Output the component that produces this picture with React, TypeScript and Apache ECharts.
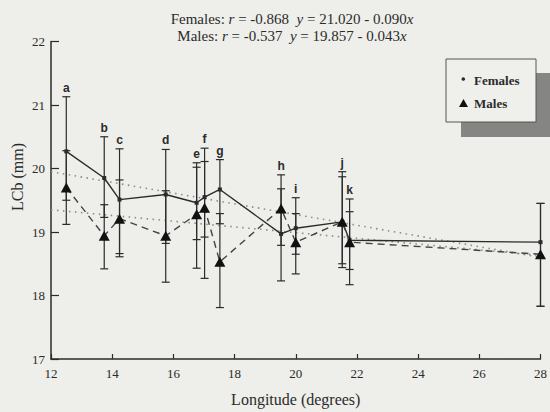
import React, { useEffect, useRef } from "react";
import * as echarts from "echarts";

const longitudes = [12.5, 13.74, 14.24, 15.75, 16.76, 17.02, 17.52, 19.52, 20.0, 21.52, 21.76, 28];
const siteLetters = ["a", "b", "c", "d", "e", "f", "g", "h", "i", "j", "k", ""];
const femaleMean = [20.27, 19.85, 19.51, 19.59, 19.46, 19.55, 19.67, 18.97, 19.06, 19.16, 18.87, 18.84];
const femaleLow = [19.5, 19.23, 18.66, 18.82, 18.88, 18.92, 19.13, 18.23, 18.65, 18.44, 18.17, 17.83];
const femaleHigh = [21.13, 20.5, 20.31, 20.3, 20.02, 20.11, 20.14, 19.68, 19.54, 19.87, 19.52, 19.45];
const maleMean = [19.7, 18.94, 19.21, 18.94, 19.28, 19.38, 18.53, 19.37, 18.84, 19.16, 18.84, 18.65];
const maleLow = [19.12, 18.42, 18.61, 18.21, 18.43, 18.27, 17.81, 18.79, 18.34, 18.5, 18.41, 17.83];
const maleHigh = [20.28, 19.43, 19.82, 19.65, 20.09, 20.32, 19.29, 19.9, 19.29, 19.95, 19.32, 19.45];
const femaleFit = [[12, 19.95], [28, 18.6]];
const maleFit = [[12, 19.35], [28, 18.63]];
const xTicks = { min: 12, max: 28, interval: 2 };
const yTicks = { min: 17, max: 22, interval: 1 };

const INK = "#2b2b2b";
const SERIF = '"Liberation Serif", "DejaVu Serif", serif';

function errorBarSeries(name: string, low: number[], high: number[]) {
  return {
    type: "custom",
    name,
    z: 2,
    data: longitudes.map((x, i) => [x, low[i], high[i]]),
    renderItem: (params: any, api: any) => {
      const x = api.value(0);
      const pLo = api.coord([x, api.value(1)]);
      const pHi = api.coord([x, api.value(2)]);
      const w = 4;
      const style = { stroke: INK, lineWidth: 1.2, fill: "none" };
      return {
        type: "group",
        children: [
          { type: "line", shape: { x1: pLo[0], y1: pLo[1], x2: pHi[0], y2: pHi[1] }, style },
          { type: "line", shape: { x1: pHi[0] - w, y1: pHi[1], x2: pHi[0] + w, y2: pHi[1] }, style },
          { type: "line", shape: { x1: pLo[0] - w, y1: pLo[1], x2: pLo[0] + w, y2: pLo[1] }, style },
        ],
      };
    },
  };
}

const titleRich = {
  n: { fontFamily: SERIF, fontSize: 15, fontWeight: "normal", color: INK },
  i: { fontFamily: SERIF, fontSize: 15, fontWeight: "normal", fontStyle: "italic", color: INK },
};

export default function App() {
  const ref = useRef<HTMLDivElement>(null);
  useEffect(() => {
    const chart = echarts.init(ref.current!, null, { renderer: "svg" });
    const labelTops = longitudes.map((x, i) => [x, Math.max(femaleHigh[i], maleHigh[i])]);
    chart.setOption({
      animation: false,
      backgroundColor: "#eeeeea",
      grid: { left: 51, right: 2, top: 41.5, bottom: 47, containLabel: false },
      xAxis: {
        type: "value",
        min: xTicks.min,
        max: xTicks.max,
        interval: xTicks.interval,
        name: "Longitude (degrees)",
        nameLocation: "middle",
        nameGap: 32,
        nameTextStyle: { fontFamily: SERIF, fontSize: 16, color: INK },
        axisLine: { lineStyle: { color: INK, width: 1.5 } },
        axisTick: { inside: true, length: 5, lineStyle: { color: INK, width: 1.2 } },
        axisLabel: { fontFamily: SERIF, fontSize: 13, color: INK, margin: 8 },
        splitLine: { show: false },
      },
      yAxis: {
        type: "value",
        min: yTicks.min,
        max: yTicks.max,
        interval: yTicks.interval,
        axisLine: { show: true, lineStyle: { color: INK, width: 1.5 } },
        axisTick: { show: true, inside: true, length: 8, lineStyle: { color: INK, width: 1.2 } },
        axisLabel: { fontFamily: SERIF, fontSize: 13, color: INK, margin: 6 },
        splitLine: { show: false },
      },
      graphic: [
        {
          type: "text",
          x: 17.5,
          y: 177,
          rotation: Math.PI / 2,
          style: {
            text: "LCb (mm)",
            font: `16px ${SERIF}`,
            fill: INK,
            align: "center",
            verticalAlign: "middle",
          },
        },
        { type: "rect", shape: { x: 461, y: 73, width: 95, height: 64 }, style: { fill: "#858583" } },
        { type: "rect", shape: { x: 446, y: 59, width: 90, height: 63 }, style: { fill: "#efefec", stroke: "#555", lineWidth: 1 } },
        { type: "circle", shape: { cx: 463.3, cy: 79, r: 1.8 }, style: { fill: INK } },
        { type: "text", x: 474, y: 80, style: { text: "Females", font: `bold 13px ${SERIF}`, fill: INK, verticalAlign: "middle" } },
        { type: "polygon", shape: { points: [[459, 107], [463.5, 99], [468, 107]] }, style: { fill: "#111" } },
        { type: "text", x: 474, y: 103.5, style: { text: "Males", font: `bold 13px ${SERIF}`, fill: INK, verticalAlign: "middle" } },
      ],
      title: [
        {
          text: "{n|Females: }{i|r}{n| = -0.868  }{i|y}{n| = 21.020 - 0.090}{i|x}",
          left: 292,
          top: 11,
          textAlign: "center",
          padding: 0,
          textStyle: { fontWeight: "normal", rich: titleRich },
        },
        {
          text: "{n|Males: }{i|r}{n| = -0.537  }{i|y}{n| = 19.857 - 0.043}{i|x}",
          left: 292,
          top: 28,
          textAlign: "center",
          padding: 0,
          textStyle: { fontWeight: "normal", rich: titleRich },
        },
      ],
      series: [
        {
          type: "line",
          name: "Females fit",
          data: femaleFit,
          symbol: "none",
          z: 1,
          lineStyle: { color: "#8a8a88", width: 1.6, type: [1.5, 4.5] },
        },
        {
          type: "line",
          name: "Males fit",
          data: maleFit,
          symbol: "none",
          z: 1,
          lineStyle: { color: "#8a8a88", width: 1.6, type: [1.5, 4.5] },
        },
        errorBarSeries("Females range", femaleLow, femaleHigh),
        errorBarSeries("Males range", maleLow, maleHigh),
        {
          type: "custom",
          name: "Sites",
          z: 3,
          data: labelTops,
          renderItem: (params: any, api: any) => {
            const p = api.coord([api.value(0), api.value(1)]);
            return {
              type: "text",
              x: p[0],
              y: p[1] - 3,
              style: {
                text: siteLetters[params.dataIndex],
                font: 'bold 12px "Liberation Sans", Arial, sans-serif',
                fill: INK,
                align: "center",
                verticalAlign: "bottom",
              },
            };
          },
        },
        {
          type: "line",
          name: "Females",
          data: longitudes.map((x, i) => [x, femaleMean[i]]),
          symbol: "rect",
          symbolSize: 4,
          z: 4,
          itemStyle: { color: INK },
          lineStyle: { color: INK, width: 1.4, type: "solid" },
        },
        {
          type: "line",
          name: "Males",
          data: longitudes.map((x, i) => [x, maleMean[i]]),
          symbol: "triangle",
          symbolSize: [11, 10],
          z: 5,
          itemStyle: { color: "#111" },
          lineStyle: { color: "#444", width: 1.4, type: [7, 5] },
        },
      ],
    });
    return () => chart.dispose();
  }, []);
  return <div ref={ref} style={{ position: "fixed", left: 0, top: 0, width: 550, height: 412 }} />;
}
